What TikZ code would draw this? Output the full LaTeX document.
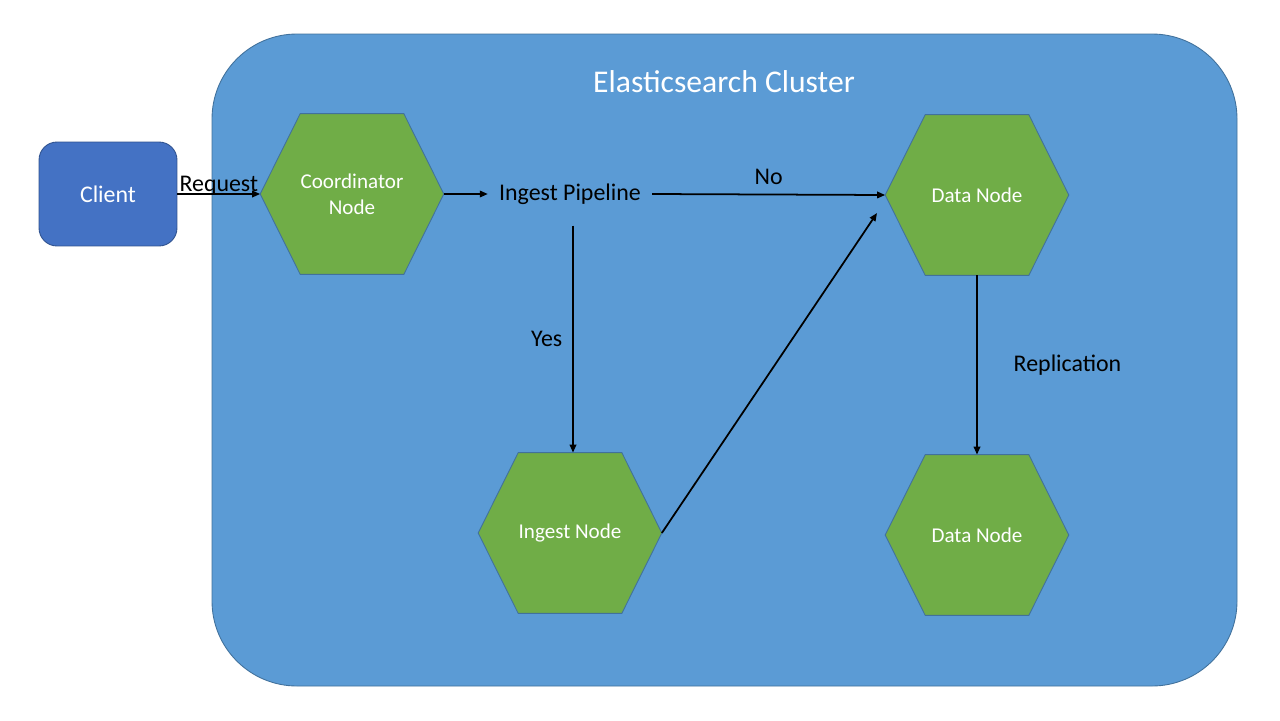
\documentclass[tikz,border=0pt]{standalone}
\usepackage{fontspec}
\setmainfont{Carlito}
\usepackage{tikz}
\usetikzlibrary{arrows.meta, positioning, backgrounds}
\definecolor{clusterblue}{HTML}{5B9BD5}
\definecolor{clusterline}{HTML}{41719C}
\definecolor{clientblue}{HTML}{4472C4}
\definecolor{clientline}{HTML}{2F528F}
\definecolor{nodegreen}{HTML}{70AD47}

\begin{document}
\begin{tikzpicture}[x=0.02cm, y=-0.02cm,
		hexnode/.style={minimum width=3.66cm, minimum height=3.2cm, inner sep=0pt,
			text=white, align=center, font=\fontsize{12}{14.7}\selectfont},
		hexfill/.style={fill=nodegreen, draw=clusterline, line width=0.5pt},
		flow/.style={-{Triangle[length=0.16cm,width=0.13cm]}, line width=1pt},
		lbl/.style={font=\fontsize{13.6}{16}\selectfont}]
			\useasboundingbox (0,0) rectangle (1280,720);
			\node[text=white, font=\fontsize{18}{22}\selectfont] (title) at (724,82) {Elasticsearch Cluster};
			\node[fill=clientblue, draw=clientline, line width=0.5pt, rounded corners=0.36cm,
				minimum width=2.76cm, minimum height=2.08cm, text=white, lbl] (client) at (108,194) {Client};
			\node[hexnode] (coord) at (352,194) {Coordinator\\Node};
			\node[lbl, inner xsep=0.22cm, inner ysep=0.42cm] (pipe) at (570,194) {Ingest Pipeline};
			\node[hexnode] (data1) at (977,195) {Data Node};
			\node[hexnode] (ingest) at (570,533) {Ingest Node};
			\node[hexnode] (data2) at (977,535) {Data Node};
			\coordinate (dhit) at (877,213);
			\begin{scope}[on background layer]
				\draw[fill=clusterblue, draw=clusterline, line width=0.5pt, rounded corners=1.7cm] (212,34) rectangle (1237,686);
				\foreach \h in {coord, data1, ingest, data2}
					\draw[hexfill] (\h.west) -- ([xshift=0.8cm]\h.north west) -- ([xshift=-0.8cm]\h.north east)
						-- (\h.east) -- ([xshift=-0.8cm]\h.south east) -- ([xshift=0.8cm]\h.south west) -- cycle;
			\end{scope}
			\draw[flow] (client) -- (coord.west) node[midway, anchor=base, yshift=0.06cm, lbl] {Request};
			\draw[flow] (coord.east) -- (pipe.west);
			\draw[flow] (pipe.east) -- (data1.west) node[midway, above, yshift=0.06cm, lbl] {No};
			\draw[flow] ([xshift=0.06cm]pipe.south) -- ([xshift=0.06cm]ingest.north) node[midway, left=0.08cm, lbl] {Yes};
			\draw[flow] (ingest.east) -- (dhit);
			\draw[flow] (data1.south) -- (data2.north) node[midway, right=0.6cm, lbl] {Replication};
		\end{tikzpicture}
\end{document}
